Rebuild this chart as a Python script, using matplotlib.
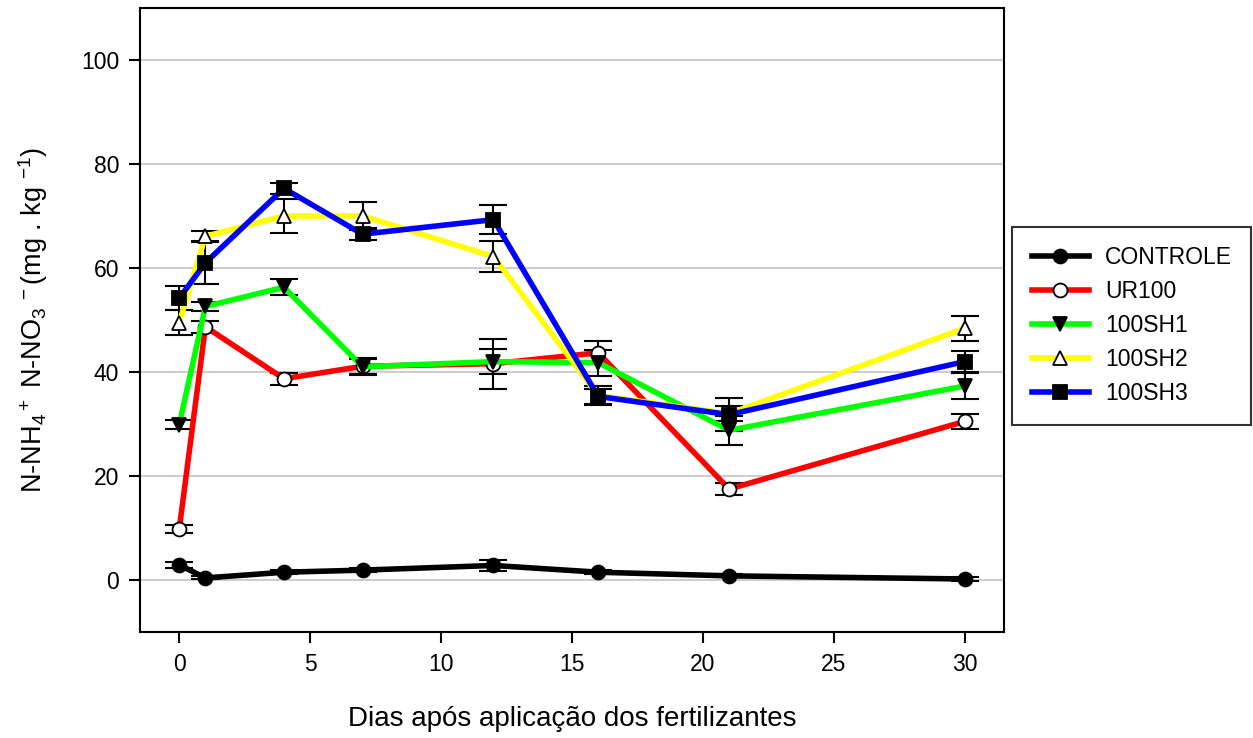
import numpy as np
import matplotlib
matplotlib.use("Agg")
import matplotlib.pyplot as plt

plt.rcParams['font.family'] = ['Liberation Sans', 'DejaVu Sans']
plt.rcParams['mathtext.fontset'] = 'custom'
plt.rcParams['mathtext.rm'] = 'Liberation Sans'
plt.rcParams['mathtext.it'] = 'Liberation Sans'

# sampling days
dias = [0, 1, 4, 7, 12, 16, 21, 30]

controle = [2.9, 0.4, 1.5, 1.9, 2.8, 1.5, 0.8, 0.2]
controle_err = [0.6, 0.3, 0.4, 0.4, 1.0, 0.4, 0.3, 0.3]

ur100 = [9.8, 48.7, 38.7, 41.1, 41.6, 43.7, 17.5, 30.5]
ur100_err = [0.7, 1.2, 1.2, 1.5, 4.8, 2.2, 1.2, 1.4]

sh1 = [29.9, 52.6, 56.3, 41.0, 42.0, 41.8, 28.8, 37.3]
sh1_err = [0.8, 0.8, 1.5, 1.5, 2.4, 2.5, 2.8, 2.5]

sh2 = [49.5, 66.1, 70.0, 70.0, 62.2, 35.5, 32.0, 48.4]
sh2_err = [2.4, 1.0, 3.3, 2.7, 3.0, 1.8, 1.5, 2.4]

sh3 = [54.2, 61.0, 75.3, 66.5, 69.3, 35.3, 31.8, 42.0]
sh3_err = [2.3, 4.0, 1.0, 1.2, 2.8, 1.5, 3.2, 2.0]

series = [
    ("CONTROLE", controle, controle_err, "black", "o", "black"),
    ("UR100", ur100, ur100_err, "red", "o", "white"),
    ("100SH1", sh1, sh1_err, "#00ff00", "v", "black"),
    ("100SH2", sh2, sh2_err, "yellow", "^", "white"),
    ("100SH3", sh3, sh3_err, "blue", "s", "black"),
]

fig = plt.figure(figsize=(12.53, 7.38), dpi=100)
ax = fig.add_axes([0.1117, 0.1436, 0.8013 - 0.1117, 0.9892 - 0.1436])

handles = []
for name, vals, err, color, mk, face in series:
    ax.errorbar(dias, vals, yerr=err, fmt="none", ecolor="black",
                elinewidth=1.5, capsize=10, capthick=1.5, zorder=3)
    h, = ax.plot(dias, vals, color=color, lw=4, marker=mk, markersize=10,
                 markerfacecolor=face, markeredgecolor="black",
                 markeredgewidth=1.3, label=name, zorder=4)
    handles.append(h)

ax.set_xlim(-1.5, 31.5)
ax.set_ylim(-10, 110)
ax.set_xticks([0, 5, 10, 15, 20, 25, 30])
ax.set_yticks([0, 20, 40, 60, 80, 100])
ax.yaxis.grid(True, color="#c8c8c8", lw=1.3)
ax.set_axisbelow(True)
ax.tick_params(axis="both", direction="out", length=8, width=1.5,
               labelsize=16.5, top=False, right=False, pad=7)
for s in ax.spines.values():
    s.set_linewidth(1.5)

ax.set_xlabel("Dias após aplicação dos fertilizantes", fontsize=20, labelpad=22)
ax.set_ylabel(r"N-NH$_4$$^+$ N-NO$_3$$\,^-$(mg . kg $^{-1}$)", fontsize=19.5,
              labelpad=22)

leg = fig.legend(handles=handles, loc="upper left",
                 bbox_to_anchor=(0.8077, 0.6925), fontsize=16.5,
                 frameon=True, fancybox=False, edgecolor="black",
                 handlelength=2.5, borderpad=0.85, labelspacing=0.48,
                 handletextpad=0.7, borderaxespad=0)
leg.get_frame().set_linewidth(1.5)

fig.savefig("out.png", dpi=100)
